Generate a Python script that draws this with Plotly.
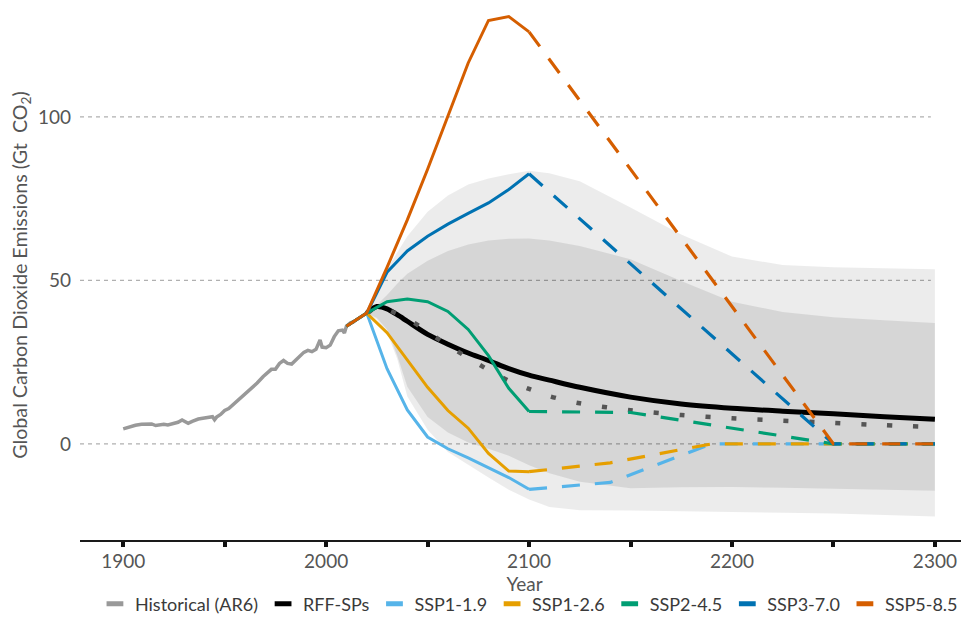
import plotly.graph_objects as go

# ---------------- data ----------------
hist_years = [1900, 1903, 1906, 1909, 1912, 1914, 1916, 1918, 1920, 1922, 1925, 1927,
              1929, 1930, 1932, 1934, 1937, 1940, 1942, 1944, 1945, 1946, 1948, 1950,
              1952, 1955, 1958, 1960, 1963, 1966, 1969, 1971, 1973, 1975, 1977, 1979,
              1981, 1983, 1985, 1987, 1989, 1991, 1993, 1995, 1997, 1998, 2000, 2002,
              2004, 2006, 2008, 2009, 2010, 2012, 2014]
hist_vals = [4.6, 5.2, 5.7, 6.0, 6.2, 6.1, 5.6, 5.9, 6.0, 5.8, 6.3, 6.6,
             7.3, 7.0, 6.3, 6.9, 7.6, 7.9, 8.1, 8.3, 7.4, 8.2, 9.0, 10.2,
             10.8, 12.4, 14.0, 15.2, 16.8, 18.6, 20.6, 21.8, 22.8, 22.8, 24.6, 25.5,
             24.6, 24.4, 25.6, 26.8, 28.0, 28.6, 28.2, 28.9, 31.8, 29.6, 29.4, 30.2,
             32.8, 34.6, 34.8, 33.9, 36.0, 37.0, 37.5]

ssp_years = [2010, 2020, 2030, 2040, 2050, 2060, 2070, 2080, 2090, 2100]
ssp119 = [36.0, 40.0, 23.0, 10.4, 2.1, -1.5, -4.3, -7.3, -10.3, -13.9]
ssp126 = [36.0, 40.0, 34.0, 25.7, 17.3, 10.2, 4.8, -2.9, -8.3, -8.5]
ssp245 = [36.0, 40.0, 43.5, 44.3, 43.5, 40.5, 35.0, 27.0, 17.0, 9.9]
ssp370 = [36.0, 40.0, 52.5, 59.0, 63.5, 67.2, 70.5, 73.7, 77.8, 82.6]
ssp585 = [36.0, 40.0, 54.0, 68.5, 84.0, 100.5, 116.5, 129.5, 130.7, 126.0]

ext119_years = [2100, 2140, 2190, 2300]
ext119 = [-13.9, -11.8, 0.0, 0.0]
ext126_years = [2100, 2140, 2190, 2300]
ext126 = [-8.5, -5.8, 0.0, 0.0]
ext245_years = [2100, 2150, 2250, 2300]
ext245 = [9.9, 9.6, 0.0, 0.0]
ext370_years = [2100, 2250, 2300]
ext370 = [82.6, 0.0, 0.0]
ext585_years = [2100, 2250, 2300]
ext585 = [126.0, 0.0, 0.0]

rff_years = [2020, 2025, 2030, 2035, 2040, 2050, 2060, 2070, 2080, 2090, 2100,
             2110, 2125, 2150, 2175, 2200, 2225, 2250, 2275, 2300]
rff_median = [40.0, 42.0, 41.3, 39.5, 37.5, 33.5, 30.5, 27.8, 25.5, 23.0, 21.0,
              19.5, 17.3, 14.3, 12.2, 10.9, 10.0, 9.2, 8.3, 7.5]
rff_p95 = [40.0, 47.0, 53.5, 58.5, 63.5, 71.0, 76.0, 79.3, 81.2, 82.5, 83.5,
           82.8, 80.3, 72.3, 64.0, 57.3, 54.7, 54.0, 53.7, 53.4]
rff_p75 = [40.0, 42.5, 45.5, 49.0, 52.0, 56.0, 59.0, 61.0, 62.2, 62.7, 62.8,
           62.2, 60.5, 56.5, 49.8, 43.5, 40.3, 38.7, 37.8, 37.0]
rff_p25 = [40.0, 38.5, 35.0, 27.0, 17.5, 8.2, 3.5, 0.4, -1.5, -3.6, -6.5,
           -9.0, -11.6, -13.6, -13.3, -13.2, -13.4, -13.7, -14.0, -14.3]
rff_p05 = [40.0, 38.0, 34.0, 26.0, 14.5, 4.3, -2.5, -6.5, -10.3, -14.0, -17.0,
           -19.3, -20.3, -20.4, -20.7, -20.9, -21.1, -21.3, -21.7, -22.2]

dotted_years = [2020, 2025, 2030, 2040, 2050, 2060, 2070, 2080, 2090, 2100, 2110,
                2125, 2150, 2175, 2200, 2225, 2250, 2275, 2300]
dotted_vals = [40.0, 41.5, 41.0, 38.3, 34.3, 30.1, 26.3, 22.6, 19.3, 16.8, 14.6,
               12.4, 10.3, 8.8, 7.8, 7.1, 6.4, 5.7, 5.1]

legend_names = ["Historical (AR6)", "RFF-SPs", "SSP1-1.9", "SSP1-2.6",
                "SSP2-4.5", "SSP3-7.0", "SSP5-8.5"]
x_tickvals = [1900, 1950, 2000, 2050, 2100, 2150, 2200, 2250, 2300]
x_ticktext = ["1900", "", "2000", "", "2100", "", "2200", "", "2300"]
y_tickvals = [0, 50, 100]

# ---------------- styles ----------------
C_HIST = "#999999"
C_RFF = "#000000"
C_119 = "#56B4E9"
C_126 = "#E69F00"
C_245 = "#009E73"
C_370 = "#0072B2"
C_585 = "#D55E00"
TXT = "#555555"
FONT = "Lato"

fig = go.Figure()

# bands
fig.add_trace(go.Scatter(x=rff_years, y=rff_p05, mode="lines", line=dict(width=0),
                         showlegend=False, hoverinfo="skip"))
fig.add_trace(go.Scatter(x=rff_years, y=rff_p95, mode="lines", line=dict(width=0),
                         fill="tonexty", fillcolor="rgba(0,0,0,0.075)",
                         showlegend=False, hoverinfo="skip"))
fig.add_trace(go.Scatter(x=rff_years, y=rff_p25, mode="lines", line=dict(width=0),
                         showlegend=False, hoverinfo="skip"))
fig.add_trace(go.Scatter(x=rff_years, y=rff_p75, mode="lines", line=dict(width=0),
                         fill="tonexty", fillcolor="rgba(0,0,0,0.092)",
                         showlegend=False, hoverinfo="skip"))

# historical
fig.add_trace(go.Scatter(x=hist_years, y=hist_vals, mode="lines",
                         line=dict(color=C_HIST, width=3.5), showlegend=False))

# RFF median & dotted
fig.add_trace(go.Scatter(x=rff_years, y=rff_median, mode="lines",
                         line=dict(color=C_RFF, width=5, shape="spline", smoothing=0.8),
                         showlegend=False))
fig.add_trace(go.Scatter(x=dotted_years, y=dotted_vals, mode="lines",
                         line=dict(color="#555555", width=4.5, dash="5px,21px",
                                   shape="spline", smoothing=0.8),
                         showlegend=False))

ssps = [
    (ssp119, ext119_years, ext119, C_119),
    (ssp126, ext126_years, ext126, C_126),
    (ssp245, ext245_years, ext245, C_245),
    (ssp370, ext370_years, ext370, C_370),
    (ssp585, ext585_years, ext585, C_585),
]
for vals, ey, ev, col in ssps:
    fig.add_trace(go.Scatter(x=ey, y=ev, mode="lines",
                             line=dict(color=col, width=3.2, dash="18px,15px"),
                             showlegend=False))
for vals, ey, ev, col in ssps:
    fig.add_trace(go.Scatter(x=ssp_years, y=vals, mode="lines",
                             line=dict(color=col, width=3), showlegend=False))

# legend entries
for name, col in zip(legend_names, [C_HIST, C_RFF, C_119, C_126, C_245, C_370, C_585]):
    fig.add_trace(go.Scatter(x=[None], y=[None], mode="markers", name=name,
                             marker=dict(symbol="line-ew", size=12, color=col,
                                         line=dict(color=col, width=5))))

# gridlines
for gv in y_tickvals:
    fig.add_shape(type="line", xref="x", yref="y", x0=1878.7, x1=2298, y0=gv, y1=gv,
                  line=dict(color="#b0b0b0", width=1.2, dash="4px,4px"), layer="below")

fig.update_layout(
    width=961, height=620,
    margin=dict(l=72, r=0, t=2, b=88),
    plot_bgcolor="white", paper_bgcolor="white",
    font=dict(family=FONT, color=TXT, size=19),
    showlegend=True,
    legend=dict(orientation="h", traceorder="normal", x=0.505, xanchor="center",
                y=-0.121, yanchor="middle",
                font=dict(size=18, color="#3a3a3a"), bgcolor="rgba(0,0,0,0)"),
    xaxis=dict(range=[1878.7, 2316.8], tickvals=x_tickvals, ticktext=x_ticktext,
               showgrid=False, zeroline=False, showline=True, linecolor="#1a1a1a",
               linewidth=1.6, ticks="outside", ticklen=5, tickwidth=4, tickcolor="#111111",
               tickfont=dict(size=19, color=TXT), ticklabelstandoff=-2,
               title=dict(text="Year", font=dict(size=19, color=TXT), standoff=0)),
    yaxis=dict(range=[-29.4, 132.7], tickvals=y_tickvals, showgrid=False, zeroline=False,
               showline=False, ticks="", tickfont=dict(size=19, color=TXT),
               ticklabelstandoff=8,
               title=dict(text="Global Carbon Dioxide Emissions (Gt  CO<sub>2</sub>)",
                          font=dict(size=19.7, color=TXT), standoff=6)),
)

fig.write_html("out.html")
